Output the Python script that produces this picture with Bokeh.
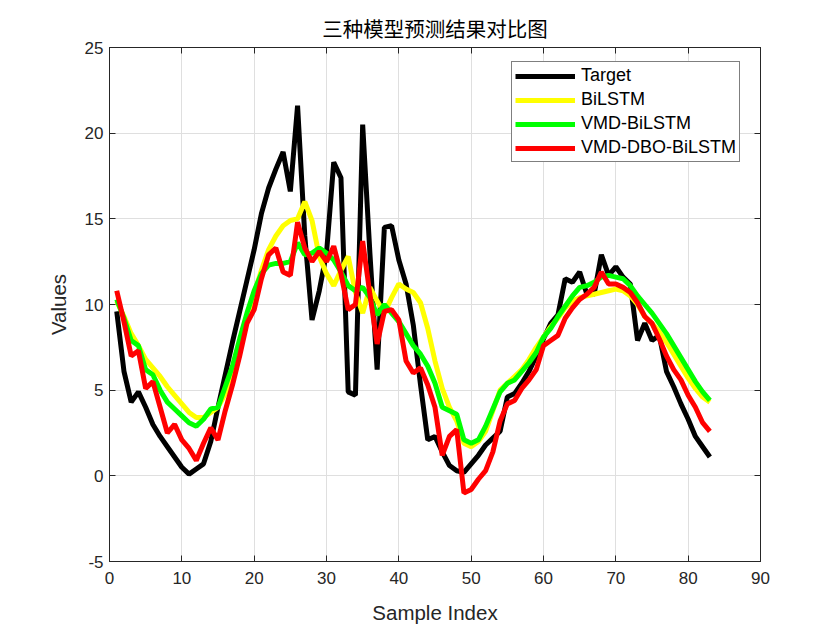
from bokeh.plotting import figure
from bokeh.models import Range1d, FixedTicker, LinearAxis, CustomJSTickFormatter, Legend, LegendItem
from bokeh.embed import file_html
from bokeh.resources import INLINE

sample_index = list(range(1, 84))

target = [9.6, 6.1, 4.3, 4.9, 4.0, 3.0, 2.3, 1.7, 1.1, 0.5,
          0.1, 0.4, 0.7, 2.0, 4.0, 5.9, 7.8, 9.6, 11.4, 13.2,
          15.3, 16.8, 17.9, 18.9, 16.6, 21.6, 14.0, 9.1, 10.8, 13.0,
          18.3, 17.4, 4.9, 4.7, 20.5, 13.0, 6.2, 14.5, 14.6, 12.6,
          11.2, 8.8, 5.3, 2.1, 2.3, 1.4, 0.6, 0.3, 0.2, 0.7,
          1.2, 1.8, 2.2, 2.6, 4.6, 4.8, 5.4, 6.1, 7.0, 8.0,
          8.9, 9.4, 11.5, 11.3, 11.9, 10.6, 10.6, 12.9, 11.7, 12.2,
          11.6, 11.2, 7.9, 8.9, 7.9, 8.2, 6.1, 5.2, 4.2, 3.3,
          2.3, 1.7, 1.1]

bilstm = [10.2, 9.3, 8.3, 7.6, 6.8, 6.3, 5.8, 5.2, 4.7, 4.2,
          3.7, 3.4, 3.4, 3.7, 4.0, 4.8, 5.7, 7.2, 9.2, 10.6,
          12.0, 13.2, 14.0, 14.6, 14.9, 15.0, 16.0, 14.9, 12.8, 11.8,
          11.1, 12.0, 12.8, 10.7, 9.5, 11.0, 10.2, 9.5, 10.4, 11.2,
          10.9, 10.7, 10.1, 8.6, 6.7, 5.1, 4.0, 3.2, 1.9, 1.7,
          2.0, 2.6, 3.8, 5.0, 5.4, 5.8, 6.2, 6.8, 7.5, 8.1,
          8.7, 9.2, 9.8, 10.2, 10.4, 10.5, 10.6, 10.7, 10.8, 10.9,
          10.8, 10.5, 10.0, 9.3, 8.9, 8.4, 7.8, 7.1, 6.4, 5.7,
          5.1, 4.6, 4.3]

vmd_bilstm = [10.3, 9.2, 7.9, 7.6, 6.2, 5.9, 5.0, 4.3, 3.9, 3.5,
              3.1, 2.9, 3.3, 3.9, 4.0, 5.2, 6.4, 8.0, 9.5, 10.8,
              11.8, 12.3, 12.4, 12.4, 12.5, 13.6, 12.9, 13.0, 13.3, 13.0,
              12.6, 11.9, 11.1, 10.8, 11.0, 10.4, 9.4, 10.0, 9.5, 9.0,
              8.3, 7.6, 7.1, 6.4, 5.4, 4.0, 3.8, 3.6, 2.1, 1.9,
              2.1, 2.9, 3.9, 4.9, 5.4, 5.6, 6.1, 6.6, 7.2, 8.1,
              8.6, 9.3, 9.9, 10.5, 11.0, 11.1, 11.3, 11.6, 11.7, 11.6,
              11.5, 11.1, 10.5, 10.0, 9.5, 8.9, 8.3, 7.6, 6.9, 6.2,
              5.5, 4.9, 4.4]

vmd_dbo_bilstm = [10.8, 9.0, 7.0, 7.3, 5.1, 5.5, 4.0, 2.5, 3.0, 2.1,
                  1.6, 0.9, 1.9, 2.8, 2.1, 3.8, 5.3, 7.0, 8.9, 9.7,
                  11.5, 12.9, 13.3, 11.9, 11.7, 14.8, 13.3, 12.5, 13.1, 12.5,
                  13.4, 11.8, 9.7, 10.0, 13.7, 10.6, 7.7, 9.6, 9.7, 9.1,
                  6.7, 6.0, 6.3, 5.3, 4.0, 1.2, 2.3, 2.7, -1.0, -0.8,
                  -0.2, 0.3, 1.4, 3.2, 4.2, 4.4, 5.1, 5.6, 6.2, 7.6,
                  7.9, 8.2, 9.2, 9.8, 10.3, 10.6, 11.0, 11.9, 11.2, 11.2,
                  11.0, 10.7, 10.1, 9.3, 8.9, 8.0, 7.0, 6.2, 5.6, 4.7,
                  4.0, 3.1, 2.6]

series_names = ["Target", "BiLSTM", "VMD-BiLSTM", "VMD-DBO-BiLSTM"]
series_colors = ["#000000", "#ffff00", "#00ff00", "#ff0000"]
x_ticks = [0, 10, 20, 30, 40, 50, 60, 70, 80, 90]
y_ticks = [-5, 0, 5, 10, 15, 20, 25]

FONT = "Liberation Sans"
AX = "#262626"

p = figure(width=832, height=626, output_backend="svg", toolbar_location=None,
           x_range=Range1d(0, 90), y_range=Range1d(-5, 25),
           min_border_left=109, min_border_right=72, min_border_top=47, min_border_bottom=65)
p.title.text = "三种模型预测结果对比图"
p.title.align = "center"
p.title.text_font = "Noto Sans CJK SC"
p.title.text_font_style = "normal"
p.title.text_font_size = "20.5px"
p.title.text_color = "#000000"

p.outline_line_color = AX
p.outline_line_width = 1
p.outline_line_alpha = 1.0

for ax in (p.xaxis[0], p.yaxis[0]):
    ax.major_tick_in = 6
    ax.major_tick_out = 0
    ax.minor_tick_in = 0
    ax.minor_tick_out = 0
    ax.axis_line_color = AX
    ax.major_tick_line_color = AX
    ax.major_label_text_color = AX
    ax.major_label_text_font = FONT
    ax.major_label_text_font_size = "17px"
    ax.axis_label_text_font = FONT
    ax.axis_label_text_font_size = "20.5px"
    ax.axis_label_text_font_style = "normal"
    ax.axis_label_text_color = AX

p.xaxis[0].ticker = FixedTicker(ticks=x_ticks)
p.yaxis[0].ticker = FixedTicker(ticks=y_ticks)
p.yaxis[0].major_label_overrides = {t: str(t) for t in y_ticks}
p.xaxis[0].axis_label = "Sample Index"
p.yaxis[0].axis_label = "Values"
p.xaxis[0].major_label_standoff = 10
p.yaxis[0].major_label_standoff = 6
p.xaxis[0].axis_label_standoff = 14
p.yaxis[0].axis_label_standoff = 12

for side, tk in (("right", y_ticks), ("above", x_ticks)):
    a = LinearAxis(ticker=FixedTicker(ticks=tk),
                   formatter=CustomJSTickFormatter(code="return ''"),
                   major_tick_in=6, major_tick_out=0, minor_tick_in=0, minor_tick_out=0,
                   axis_line_color=AX, major_tick_line_color=AX,
                   major_label_standoff=0)
    p.add_layout(a, side)

p.xgrid.ticker = FixedTicker(ticks=x_ticks)
p.ygrid.ticker = FixedTicker(ticks=y_ticks)
p.xgrid.grid_line_color = "#dfdfdf"
p.ygrid.grid_line_color = "#dfdfdf"

items = []
for name, ys, col in zip(series_names, [target, bilstm, vmd_bilstm, vmd_dbo_bilstm], series_colors):
    r = p.line(sample_index, ys, line_color=col, line_width=5)
    items.append(LegendItem(label=name, renderers=[r]))

legend = Legend(items=items, location=(402, 399))
legend.label_text_font = FONT
legend.label_text_font_size = "18px"
legend.label_text_color = "#000000"
legend.glyph_width = 60
legend.glyph_height = 18
legend.label_height = 18
legend.label_standoff = 6
legend.spacing = 3
legend.padding = 3
legend.margin = 0
legend.border_line_color = "#000000"
legend.border_line_width = 1
legend.background_fill_color = "#ffffff"
legend.background_fill_alpha = 1.0
p.add_layout(legend, "center")

open("out.html", "w").write(file_html(p, INLINE))
